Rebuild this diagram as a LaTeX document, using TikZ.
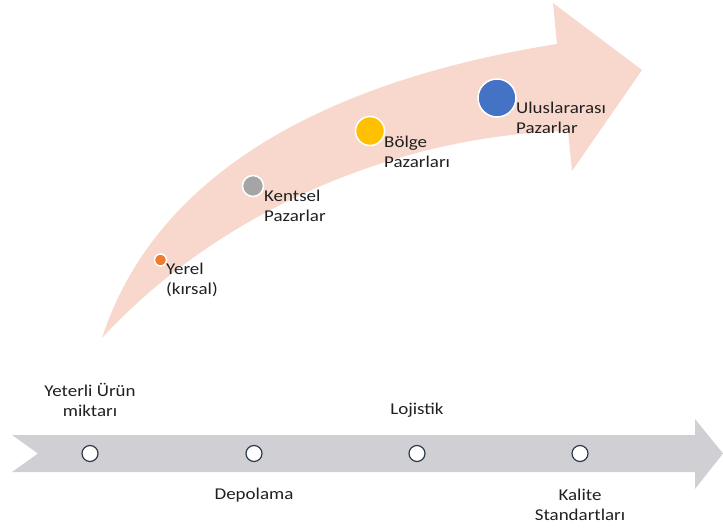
\documentclass[tikz,border=0pt]{standalone}
\usepackage{fontspec}
\setmainfont{Carlito}[FakeStretch=1.15]
\definecolor{arrowpink}{HTML}{F8D8CC}
\definecolor{bandgray}{HTML}{D0D0D4}
\definecolor{txt}{HTML}{202020}
\definecolor{dotorange}{HTML}{ED7D31}
\definecolor{dotgray}{HTML}{A5A5A5}
\definecolor{dotyellow}{HTML}{FFC000}
\definecolor{dotblue}{HTML}{4472C4}
\definecolor{ringline}{HTML}{2F3B4C}
\begin{document}
\begin{tikzpicture}[x=1bp,y=-1bp,
  lbl/.style={text=txt, font=\fontsize{16.5bp}{20.5bp}\selectfont, inner sep=0pt},
  lblL/.style={lbl, align=left, anchor=west},
  lblC/.style={lbl, align=center},
  dot/.style={circle, draw=white, line width=1.5bp, inner sep=0pt},
  ring/.style={circle, draw=ringline, fill=white, line width=1.2bp, minimum size=16bp, inner sep=0pt}]
\useasboundingbox (0,0) rectangle (723,530);
% curved arrow
\fill[arrowpink] (102,338) .. controls (165,145) and (380,72) .. (557,44)
  -- (553,3) -- (642,70) -- (572,171) -- (568,131)
  .. controls (400,135) and (220,210) .. (102,338) -- cycle;
% dots
\node[dot, fill=dotorange, minimum size=12bp] (d1) at (160.5,260) {};
\node[dot, fill=dotgray, minimum size=21bp] (d2) at (253,186) {};
\node[dot, fill=dotyellow, minimum size=29bp] (d3) at (370,131) {};
\node[dot, fill=dotblue, minimum size=38bp] (d4) at (497,98) {};
% labels
\node[lblL] (t1) at (166,280) {Yerel\\(kırsal)};
\node[lblL] (t2) at (264,206) {Kentsel\\Pazarlar};
\node[lblL] (t3) at (384,152) {Bölge\\Pazarları};
\node[lblL] (t4) at (516,118) {Uluslararası\\Pazarlar};
% band arrow
\fill[bandgray] (12,435) -- (695,435) -- (695,419) -- (723,453.5) -- (695,489)
  -- (695,472) -- (12,472) -- (38,453.5) -- cycle;
\node[ring] (r1) at (90,453.5) {};
\node[ring] (r2) at (254,453.5) {};
\node[ring] (r3) at (417,453.5) {};
\node[ring] (r4) at (580,453.5) {};
\node[lblC] (b1) at (90,400) {Yeterli Ürün\\miktarı};
\node[lblC] (b2) at (254,495) {Depolama};
\node[lblC] (b3) at (417,410) {Lojistik};
\node[lblC] (b4) at (580,505) {Kalite\\Standartları};
\end{tikzpicture}
\end{document}
